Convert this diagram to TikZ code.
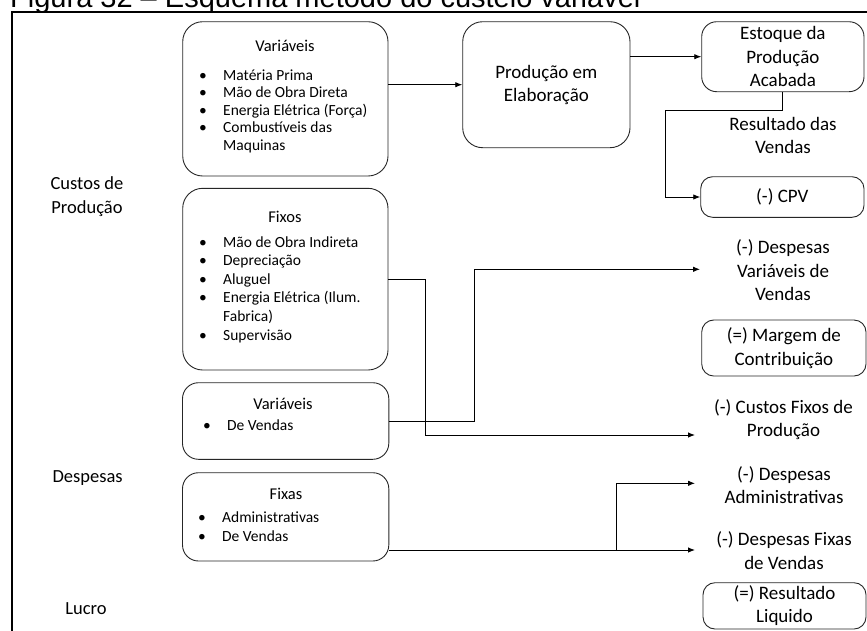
\documentclass[tikz,border=0pt]{standalone}
\usepackage{fontspec}
\setmainfont{Carlito}
\newfontfamily\titlefont{Liberation Sans}
\usetikzlibrary{arrows.meta}
\newcommand\bulitem{\makebox[24pt][l]{•}}
\begin{document}
\begin{tikzpicture}[x=1pt,y=-1pt,
  box/.style={draw=black!85, line width=0.9pt, inner sep=0pt, rounded corners=#1},
  box/.default=20pt,
  big/.style={font=\fontsize{19}{23.3}\selectfont, align=center, inner sep=0pt},
  side/.style={font=\fontsize{18.5}{23.3}\selectfont, align=center, inner sep=0pt},
  head/.style={font=\fontsize{16.5}{19}\selectfont, inner sep=0pt, anchor=base},
  item/.style={font=\fontsize{15.5}{18}\selectfont, inner sep=0pt, anchor=base west},
  arr/.style={draw=black, line width=0.9pt, -{Latex[length=7pt,width=5.5pt]}},
  lin/.style={draw=black, line width=0.9pt},
]
\useasboundingbox (0,0) rectangle (867,630);
\clip (0,0) rectangle (867,630);
% title (cut off at the top)
\node[anchor=base west, inner sep=0pt, font=\titlefont\fontsize{29}{35}\selectfont] (title) at (10,7.3) {Figura 32 – Esquema método do custeio variável};
% outer frame
\draw[line width=2pt] (12,12) rectangle (890,660);

% left labels
\node[side] (lcp) at (87,196.7) {Custos de\\Produção};
\node[side] (ldesp) at (87.6,478.3) {Despesas};
\node[side] (llucro) at (86,608.3) {Lucro};

% left boxes
\node[box, minimum width=205.3pt, minimum height=154.3pt] (V1) at (285.35,98.85) {};
\node[head] (V1h) at (285,51) {Variáveis};
\node[item] (V1a) at (199,80) {\bulitem Matéria Prima};
\node[item] (V1b) at (199,97.5) {\bulitem Mão de Obra Direta};
\node[item] (V1c) at (199,115) {\bulitem Energia Elétrica (Força)};
\node[item] (V1d) at (199,132.5) {\bulitem Combustíveis das};
\node[item] (V1e) at (223,150.5) {Maquinas};

\node[box, minimum width=205.3pt, minimum height=181.7pt] (F) at (285.35,279.15) {};
\node[head] (Fh) at (285,222) {Fixos};
\node[item] (Fa) at (199,247) {\bulitem Mão de Obra Indireta};
\node[item] (Fb) at (199,265.5) {\bulitem Depreciação};
\node[item] (Fc) at (199,284) {\bulitem Aluguel};
\node[item] (Fd) at (199,302.5) {\bulitem Energia Elétrica (Ilum.};
\node[item] (Fe) at (223,321) {Fabrica)};
\node[item] (Ff) at (199,340) {\bulitem Supervisão};

\node[box=16pt, minimum width=206.3pt, minimum height=76.6pt] (V2) at (285.65,421) {};
\node[head] (V2h) at (283,409) {Variáveis};
\node[item] (V2a) at (203,430.5) {\bulitem De Vendas};

\node[box=16pt, minimum width=206.3pt, minimum height=88.3pt] (FX) at (285.65,516.85) {};
\node[head] (FXh) at (286,499) {Fixas};
\node[item] (FXa) at (198,522) {\bulitem Administrativas};
\node[item] (FXb) at (198,541.5) {\bulitem De Vendas};

% middle and right boxes
\node[box, big, minimum width=167.3pt, minimum height=126pt] (P) at (546.35,84.7) {Produção em\\Elaboração};
\node[box=15pt, big, minimum width=162.3pt, minimum height=70pt] (E) at (782.85,56.7) {Estoque da\\Produção\\Acabada};
\node[big] (RV) at (783,135.5) {Resultado das\\Vendas};
\node[box=12pt, big, minimum width=163.3pt, minimum height=40.6pt] (CPV) at (782.35,197) {(-) CPV};
\node[big] (DV) at (783,270.3) {(-) Despesas\\Variáveis de\\Vendas};
\node[box=12pt, big, minimum width=164.3pt, minimum height=56pt] (M) at (783.85,348) {(=) Margem de\\Contribuição};
\node[big] (CF) at (783.5,419.5) {(-) Custos Fixos de\\Produção};
\node[big] (DA) at (784,485) {(-) Despesas\\Administrativas};
\node[big] (DF) at (784,550.5) {(-) Despesas Fixas\\de Vendas};
\node[box=12pt, big, minimum width=163pt, minimum height=46.3pt] (R) at (784.5,605.85) {(=) Resultado\\Liquido};

% connector points
\coordinate (j1) at (665,110.7);
\coordinate (fbend) at (425.5,435);
\coordinate (cf) at (695,435);
\coordinate (vbend) at (474.5,269.3);
\coordinate (dv) at (700,269.3);
\coordinate (dfv) at (695,550);
\coordinate (br) at (616.7,550);
\coordinate (dadm) at (695,483.3);

% connectors
\draw[arr] (V1.east |- P.west) -- (P.west);
\draw[arr] (P.east |- E.west) -- (E.west);
\draw[arr] (E.south) |- (j1) |- (CPV.west);
\draw[arr] (F.east) -| (fbend) -- (cf);
\draw[arr] (V2.east) -| (vbend) -- (dv);
\draw[arr] (FX.east |- dfv) -- (dfv);
\draw[arr] (br) |- (dadm);
\end{tikzpicture}
\end{document}
